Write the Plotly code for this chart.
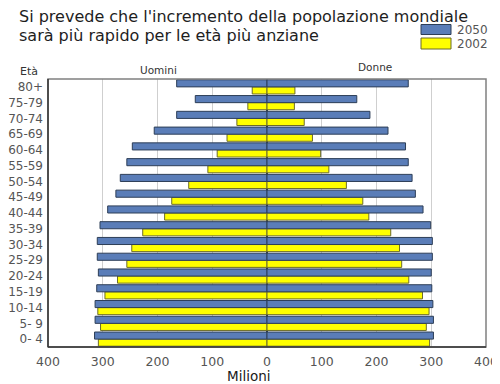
import plotly.graph_objects as go

ages = ["0- 4", "5- 9", "10-14", "15-19", "20-24", "25-29", "30-34", "35-39",
        "40-44", "45-49", "50-54", "55-59", "60-64", "65-69", "70-74", "75-79", "80+"]
men_2050 = [315, 314, 314, 311, 308, 310, 310, 305, 291, 276, 268, 256, 246, 206, 165, 131, 165]
men_2002 = [308, 304, 309, 296, 273, 256, 247, 227, 187, 174, 143, 108, 91, 73, 55, 35, 27]
women_2050 = [304, 304, 303, 301, 300, 302, 302, 299, 285, 271, 265, 258, 253, 221, 188, 164, 258]
women_2002 = [297, 291, 296, 284, 259, 246, 242, 226, 186, 175, 145, 113, 98, 83, 68, 50, 51]
x_ticks = [-400, -300, -200, -100, 0, 100, 200, 300, 400]
x_ticktext = ["400", "300", "200", "100", "0", "100", "200", "300", "400"]

BLUE = "#5a7db8"
YEL = "#ffff00"
EDGE = "#2d3e57"
YEDGE = "#6b6b2a"

# page offset (body margin) and target plot box in screen pixels
OFF = 8
PL, PR, PT, PB = 48, 486, 79, 347
W, H = 500, 384
ml, mt = PL - OFF, PT - OFF
mr, mb = W - (PR - OFF), H - (PB - OFF)
pw, ph = PR - PL, PB - PT


def px(sx):
    return (sx - PL) / pw


def py(sy):
    return (PB - sy) / ph


fig = go.Figure()
fig.add_trace(go.Bar(y=ages, x=[-v for v in men_2002], orientation="h", name="2002",
                     marker=dict(color=YEL, line=dict(color=YEDGE, width=1)),
                     offsetgroup="a", showlegend=False))
fig.add_trace(go.Bar(y=ages, x=[-v for v in men_2050], orientation="h", name="2050",
                     marker=dict(color=BLUE, line=dict(color=EDGE, width=1)),
                     offsetgroup="b", showlegend=False))
fig.add_trace(go.Bar(y=ages, x=women_2002, orientation="h", name="2002",
                     marker=dict(color=YEL, line=dict(color=YEDGE, width=1)),
                     offsetgroup="a", showlegend=False))
fig.add_trace(go.Bar(y=ages, x=women_2050, orientation="h", name="2050",
                     marker=dict(color=BLUE, line=dict(color=EDGE, width=1)),
                     offsetgroup="b", showlegend=False))

TF = "DejaVu Sans"
fig.update_layout(
    width=W, height=H,
    margin=dict(l=ml, r=mr, t=mt, b=mb, autoexpand=False),
    paper_bgcolor="white", plot_bgcolor="white",
    barmode="group", bargap=0.1, bargroupgap=0.0,
    font=dict(family=TF, color="#555555"),
    xaxis=dict(range=[-400, 400], tickmode="array", tickvals=x_ticks, ticktext=x_ticktext,
               showgrid=True, gridcolor="#cfcfcf", gridwidth=1,
               zeroline=True, zerolinecolor="#2a3a55", zerolinewidth=1.5,
               showline=False, ticks="", automargin=False,
               tickfont=dict(size=12.5, family=TF, color="#555555"),
               ticklabelstandoff=5),
    yaxis=dict(type="category", categoryorder="array", categoryarray=ages,
               tickmode="array", tickvals=ages, ticktext=ages,
               range=[-0.5, len(ages) - 0.5], showgrid=False, zeroline=False,
               showline=False, ticks="", automargin=False,
               tickfont=dict(size=12, family=TF, color="#555555"),
               ticklabelstandoff=4),
    shapes=[
        dict(type="rect", xref="paper", yref="paper", x0=0, x1=1, y0=0, y1=1,
             line=dict(color="#808080", width=1.5), fillcolor="rgba(0,0,0,0)", layer="above"),
        dict(type="line", xref="paper", yref="paper", x0=0, x1=0, y0=0, y1=1,
             line=dict(color="#333333", width=1.5), layer="above"),
        dict(type="line", xref="paper", yref="paper", x0=0, x1=1, y0=0, y1=0,
             line=dict(color="#333333", width=1.5), layer="above"),
        dict(type="rect", xref="paper", yref="paper", x0=px(421), x1=px(451),
             y0=py(34.5), y1=py(24.5), fillcolor=BLUE, line=dict(color=EDGE, width=1)),
        dict(type="rect", xref="paper", yref="paper", x0=px(421), x1=px(451),
             y0=py(49), y1=py(38), fillcolor=YEL, line=dict(color=YEDGE, width=1)),
    ],
    annotations=[
        dict(text="Si prevede che l'incremento della popolazione mondiale",
             xref="paper", yref="paper", x=px(17), y=py(16),
             xanchor="left", yanchor="middle", showarrow=False,
             font=dict(size=16, color="#1e1e1e", family=TF)),
        dict(text="sarà più rapido per le età più anziane",
             xref="paper", yref="paper", x=px(17), y=py(35.5),
             xanchor="left", yanchor="middle", showarrow=False,
             font=dict(size=16, color="#1e1e1e", family=TF)),
        dict(text="2050", xref="paper", yref="paper", x=px(455), y=py(29.5),
             xanchor="left", yanchor="middle", showarrow=False,
             font=dict(size=12, color="#555555", family=TF)),
        dict(text="2002", xref="paper", yref="paper", x=px(455), y=py(43.5),
             xanchor="left", yanchor="middle", showarrow=False,
             font=dict(size=12, color="#555555", family=TF)),
        dict(text="Età", xref="paper", yref="paper", x=px(18), y=py(72),
             xanchor="left", yanchor="middle", showarrow=False,
             font=dict(size=11, color="#333333", family=TF)),
        dict(text="Uomini", xref="paper", yref="paper", x=px(158), y=py(70),
             xanchor="center", yanchor="middle", showarrow=False,
             font=dict(size=10.5, color="#333333", family=TF)),
        dict(text="Donne", xref="paper", yref="paper", x=px(375), y=py(67),
             xanchor="center", yanchor="middle", showarrow=False,
             font=dict(size=10.5, color="#333333", family=TF)),
        dict(text="Milioni", xref="paper", yref="paper", x=px(248), y=py(376),
             xanchor="center", yanchor="middle", showarrow=False,
             font=dict(size=13.5, color="#1a1a1a", family=TF)),
    ],
)

fig.write_html("out.html")
